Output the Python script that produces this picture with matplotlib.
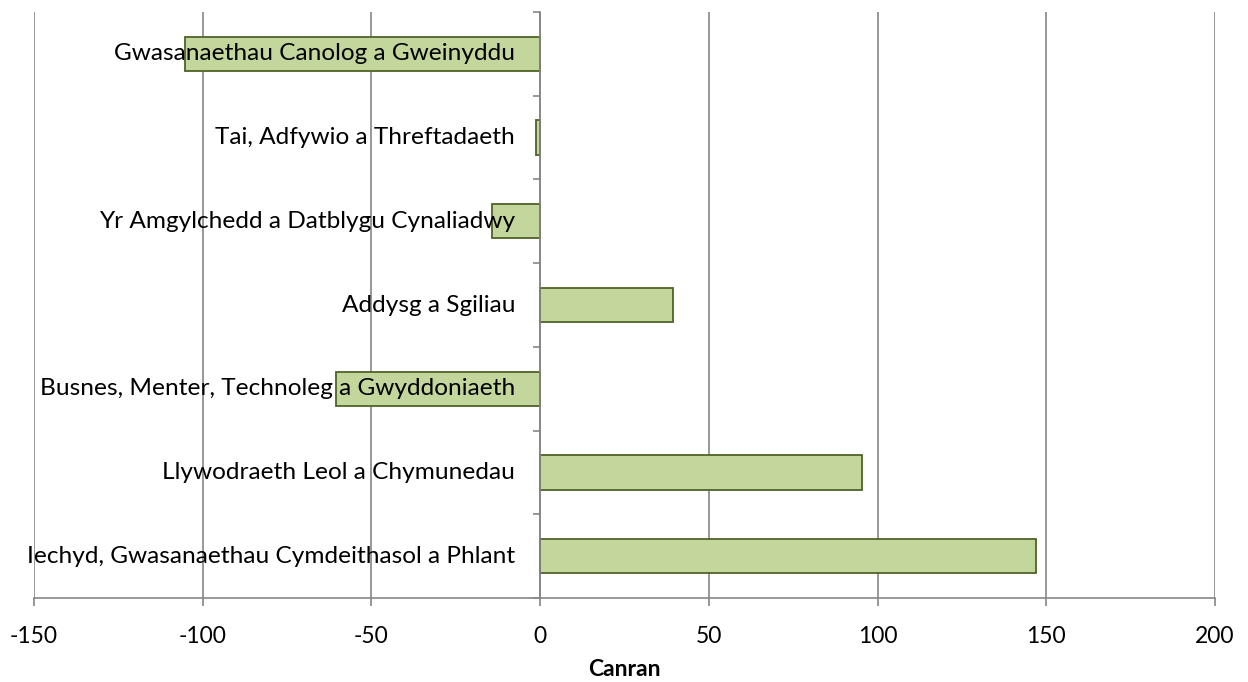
import matplotlib.pyplot as plt
import numpy as np

plt.rcParams['font.family'] = ['Lato', 'DejaVu Sans']

# categories listed bottom to top
categories = ['Iechyd, Gwasanaethau Cymdeithasol a Phlant',
              'Llywodraeth Leol a Chymunedau',
              'Busnes, Menter, Technoleg a Gwyddoniaeth',
              'Addysg a Sgiliau',
              'Yr Amgylchedd a Datblygu Cynaliadwy',
              'Tai, Adfywio a Threftadaeth',
              'Gwasanaethau Canolog a Gweinyddu']
values = [147, 95.4, -60.5, 39.4, -14.4, -1.2, -105.2]
xticks = [-150, -100, -50, 0, 50, 100, 150, 200]

fig = plt.figure(figsize=(12.48, 6.82), dpi=100)
ax = fig.add_axes([34/1248, 1-598/682, (1215-34)/1248, (598-12)/682])

y = np.arange(len(categories))
ax.barh(y, values, height=0.41, color='#C3D69B', edgecolor='#4F6228', linewidth=1.3, zorder=2)

for yi, name in zip(y, categories):
    ax.annotate(name, xy=(0, yi), xytext=(-18, 0), textcoords='offset points',
                ha='right', va='center', fontsize=17.6, color='black', zorder=3)

ax.set_xlim(-150, 200)
ax.set_ylim(-0.5, len(categories) - 0.5)
ax.set_xticks(xticks)
ax.set_xticklabels([str(t) for t in xticks], fontsize=16.5)
ax.set_yticks(np.arange(-0.5, len(categories), 1.0))
ax.set_yticklabels([])

for t in xticks:
    ax.axvline(t, color='#868686', linewidth=1.2, zorder=1)

for s in ['top', 'right']:
    ax.spines[s].set_visible(False)
ax.spines['left'].set_position(('data', 0))
ax.spines['left'].set_color('#868686')
ax.spines['left'].set_linewidth(1.2)
ax.spines['bottom'].set_color('#868686')
ax.spines['bottom'].set_linewidth(1.2)
ax.tick_params(axis='y', direction='out', length=5, width=1.2, color='#868686')
ax.tick_params(axis='x', direction='out', length=6, width=1.2, color='#868686', pad=14)

ax.set_xlabel('Canran', fontsize=16.5, fontweight='bold', labelpad=9)

fig.savefig('out.png', dpi=100)
